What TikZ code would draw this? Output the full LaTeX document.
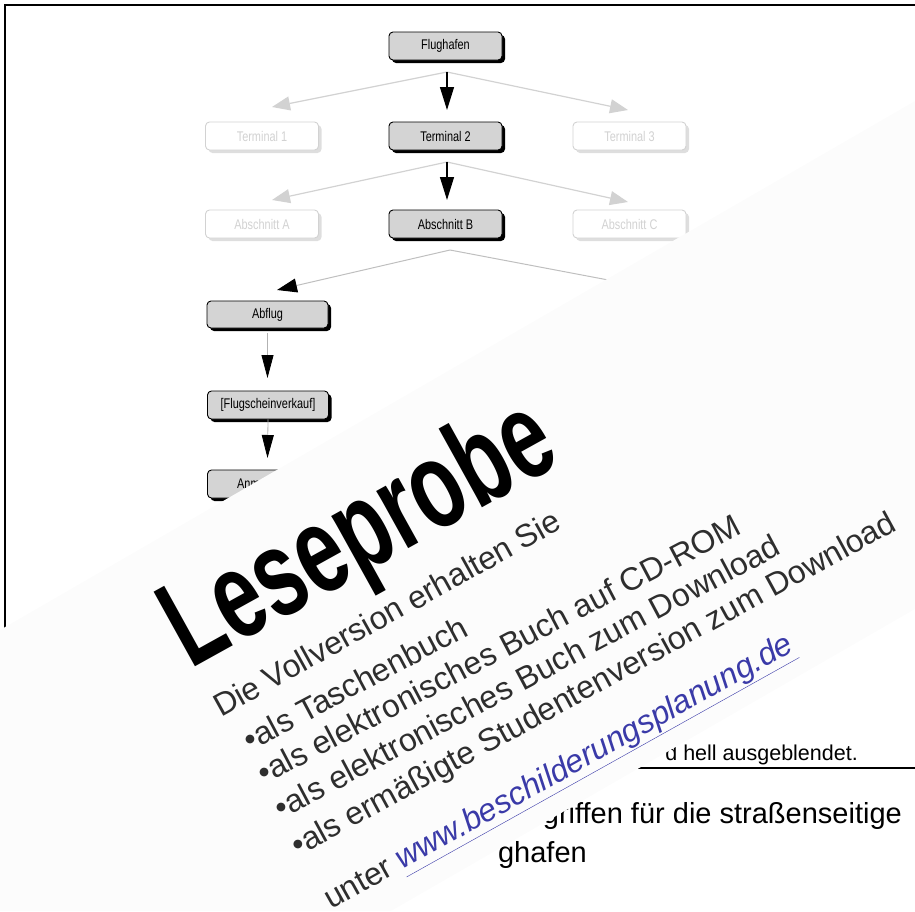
\documentclass[tikz,border=0pt]{standalone}
\usepackage{fontspec}
\setmainfont{Liberation Sans}
\newfontfamily\boxfont[FakeStretch=0.78]{Liberation Sans}
\newfontfamily\lesefont[FakeStretch=0.68]{Liberation Sans}
\usetikzlibrary{arrows.meta,shadows,calc}
\definecolor{linkblue}{HTML}{3A3AA8}
\definecolor{veil}{HTML}{FCFCFC}
\definecolor{ghost}{HTML}{D2D2D2}
\tikzset{
  hbox/.style={draw=black, line width=0.9pt, fill=black!17, rounded corners=4pt,
    minimum width=113pt, minimum height=28pt, inner sep=0pt,
    font=\boxfont\fontsize{14}{14}\selectfont,
    drop shadow={shadow xshift=3pt, shadow yshift=-3pt, opacity=1, fill=black}},
  gbox/.style={draw=ghost, line width=0.9pt, fill=white, rounded corners=4pt,
    minimum width=113pt, minimum height=28pt, inner sep=0pt, text=ghost,
    font=\boxfont\fontsize{14}{14}\selectfont,
    drop shadow={shadow xshift=3pt, shadow yshift=-3pt, opacity=1, fill=black!13}},
  harrow/.style={draw=black, line width=1.3pt, -{Triangle[length=23pt,width=14pt]}},
  garrow/.style={draw=ghost, line width=1.2pt, -{Triangle[length=18pt,width=14pt]}},
  mixarrow/.style={draw=black!30, line width=0.8pt, -{Triangle[length=23pt,width=12pt,color=black]}},
  graylink/.style={draw=black!25, line width=1pt},
  frameline/.style={draw=black, line width=2pt},
  wmtext/.style={anchor=base west, inner sep=0pt, text=black!82,
    font=\fontsize{32}{32}\selectfont},
  doctext/.style={anchor=base east, inner sep=0pt, text=black}
}
\begin{document}
\begin{tikzpicture}[x=1pt,y=-1pt]
\useasboundingbox (0,0) rectangle (915,911);

% frame
\coordinate (c0) at (5,5);
\coordinate (c1) at (915,5);
\coordinate (c2) at (5,640);
\draw[frameline] (c1) -- (c0) -- (c2);

% boxes
\node[hbox] (fl) at (445.5,46) {Flughafen};
\node[gbox] (t1) at (262,136) {Terminal 1};
\node[hbox] (t2) at (445.5,136) {Terminal 2};
\node[gbox] (t3) at (629.5,136) {Terminal 3};
\node[gbox] (aa) at (262,224) {Abschnitt A};
\node[hbox] (ab) at (445.5,224) {Abschnitt B};
\node[gbox] (ac) at (629.5,224) {Abschnitt C};
\node[hbox, minimum width=121pt, minimum height=27pt] (abf) at (267.5,314.5) {Abflug};
\node[hbox, minimum width=121pt, minimum height=28pt] (fsv) at (268,405) {[Flugscheinverkauf]};
\node[hbox, minimum width=121pt, minimum height=28pt] (anm) at (268,484) {};
\node[anchor=west, inner sep=0pt, font=\boxfont\fontsize{14}{14}\selectfont] (anmt) at (237,484) {Anm};

% fan 1
\coordinate (f1) at (447,72);
\coordinate (f1l) at (272,107);
\coordinate (f1m) at (447,110);
\coordinate (f1r) at (628,110);
\draw[garrow] (f1) -- (f1l);
\draw[garrow] (f1) -- (f1r);
\draw[harrow] (f1) -- (f1m);

% fan 2
\coordinate (f2) at (447,162);
\coordinate (f2l) at (272,200);
\coordinate (f2m) at (447,200);
\coordinate (f2r) at (628,202);
\draw[garrow] (f2) -- (f2l);
\draw[garrow] (f2) -- (f2r);
\draw[harrow] (f2) -- (f2m);

% fan 3
\coordinate (f3) at (450,250);
\coordinate (f3l) at (277,290);
\coordinate (f3r) at (640,286);
\draw[graylink] (f3) -- (f3r);
\draw[graylink, -{Triangle[length=20pt,width=14pt,color=black]}] (f3) -- (f3l);

% vertical chain
\coordinate (v1) at (267.5,378);
\coordinate (v2) at (267.5,458);
\draw[mixarrow] ([yshift=-5pt]abf.south) -- (v1);
\draw[mixarrow] (fsv.south) -- (v2);

% document text below
\node[doctext, font=\fontsize{21.5}{21.5}\selectfont] (d1) at (858,760) {d hell ausgeblendet.};
\coordinate (r0) at (600,768);
\coordinate (r1) at (915,768);
\draw[draw=black, line width=1.6pt] (r0) -- (r1);
\node[doctext, font=\fontsize{29}{29}\selectfont] (d2) at (902,823) {griffen für die straßenseitige};
\node[doctext, font=\fontsize{29}{29}\selectfont] (d3) at (587,862) {ghafen};

% veil
\fill[veil] (0,630) -- (915,101) -- (915,609) -- (391,911) -- (0,911) -- cycle;

% watermark
\node[anchor=base west, inner sep=0pt, rotate=29, text=black,
  font=\lesefont\bfseries\fontsize{124}{124}\selectfont] (wm0) at (190,670) {Leseprobe};
\node[wmtext, rotate=29] (wm1) at (221,718) {Die Vollversion erhalten Sie};
\node[wmtext, rotate=28] (wm2) at (250,752) {•als Taschenbuch};
\node[wmtext, rotate=27.7] (wm3) at (264,785) {•als elektronisches Buch auf CD-ROM};
\node[wmtext, rotate=28] (wm4) at (281,820) {•als elektronisches Buch zum Download};
\node[wmtext, rotate=28.6] (wm5) at (298,857) {•als ermäßigte Studentenversion zum Download};
\node[wmtext, rotate=29.2] (wm6) at (331,910) {unter \textcolor{linkblue}{\itshape\underline{www.beschilderungsplanung.de}}};
\end{tikzpicture}
\end{document}
